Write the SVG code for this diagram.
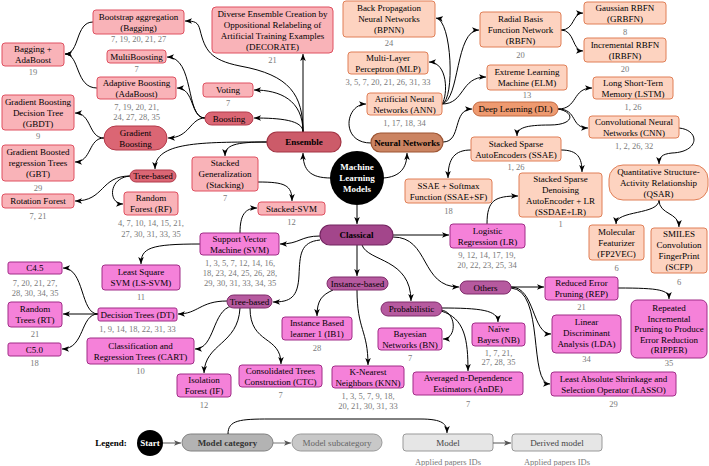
<svg xmlns="http://www.w3.org/2000/svg" width="709" height="466" viewBox="0 0 709 466">
<defs>
<style>
.t{font-family:"Liberation Serif","Times New Roman",serif;font-size:9px;text-anchor:middle;fill:#000}
.b{font-weight:bold}
.w{fill:#fff}
.l{fill:#7a7a7a;font-size:8.5px}
rect{stroke-width:1}
.e1{fill:#f9b3b8;stroke:#df5060}
.e2{fill:#db6674;stroke:#b23a4a}
.e3{fill:#cc5b69;stroke:#a33444;stroke-width:1.2}
.n1{fill:#fdd3c0;stroke:#e07f57}
.n2{fill:#ee9a70;stroke:#c4683f}
.n3{fill:#cb8462;stroke:#9d5533;stroke-width:1.2}
.c1{fill:#f581d9;stroke:#a02d87}
.c2{fill:#b65a9f;stroke:#7f2b6a}
.c3{fill:#a3468b;stroke:#732460;stroke-width:1.2}
.cn path{fill:none;stroke:#000;stroke-width:1;marker-end:url(#ah)}
.lg path{fill:none;stroke-width:1}
</style>
<marker id="ah" viewBox="0 0 10 10" refX="10" refY="5" markerWidth="7" markerHeight="7" markerUnits="userSpaceOnUse" orient="auto"><path d="M0,1 L10,5 L0,9 L2.5,5 z" fill="#000"/></marker>
<marker id="ahg" viewBox="0 0 10 10" refX="10" refY="5" markerWidth="7" markerHeight="7" markerUnits="userSpaceOnUse" orient="auto"><path d="M0,1 L10,5 L0,9 L2.5,5 z" fill="#555"/></marker>
</defs>
<rect width="709" height="466" fill="#fff"/>

<g id="connectors" class="cn">
<!-- ML root -->
<path d="M331,178 C310,178 303,170 303,153"/>
<path d="M383,178 C400,177 407,168 407,153"/>
<path d="M357,205 L357,224"/>
<!-- Ensemble -->
<path d="M303,132 L303,54"/>
<path d="M303,132 C303,100 280,90 254,90"/>
<path d="M303,132 C303,120 280,118 254,118"/>
<path d="M303,132 C303,95 290,75 240,66 C210,60 205,50 200,30 C198,22 195,21 185,21"/>
<path d="M267,142 C200,142 155,142 155,169"/>
<path d="M267,142 C235,142 225,145 225,156"/>
<path d="M205,118 C185,118 195,57 167,57"/>
<path d="M205,118 C190,118 195,88 177,88"/>
<path d="M205,118 C190,118 190,138 168,138"/>
<path d="M93,22 C75,22 80,54 65,54"/>
<path d="M97,88 C75,88 80,54 65,54"/>
<path d="M104,138 C88,138 92,113 75,113"/>
<path d="M104,138 C88,138 92,162 75,162"/>
<path d="M130,176 C100,176 105,201 75,201"/>
<path d="M130,176 C108,178 108,204 123,204"/>
<path d="M258,182 C285,182 292,185 292,201"/>
<path d="M240,233 C240,215 245,208 257,208"/>
<!-- Neural networks -->
<path d="M371,143 C340,143 345,104 366,104"/>
<path d="M443,142 C462,142 452,109 472,109"/>
<path d="M442,104 C455,100 452,20 436,18"/>
<path d="M442,104 C448,95 448,62 429,62"/>
<path d="M442,104 C460,100 455,30 479,30"/>
<path d="M442,104 C465,104 460,77 486,77"/>
<path d="M561,30 C575,30 572,13 583,13"/>
<path d="M561,30 C575,30 572,51 583,51"/>
<path d="M558,109 C578,109 572,88 592,88"/>
<path d="M558,109 C578,109 570,128 588,128"/>
<path d="M558,109 C575,112 575,125 550,125 C525,125 517,128 517,136"/>
<path d="M471,150 C455,150 448,158 448,178"/>
<path d="M561,150 C578,150 582,158 582,172"/>
<path d="M679,128 C700,130 700,152 672,153 C662,154 659,157 659,164"/>
<path d="M659,200 C659,215 616,210 616,224"/>
<path d="M659,200 C659,215 679,212 679,227"/>
<!-- Classical -->
<path d="M320,236 C300,236 300,244 280,244"/>
<path d="M200,244 C150,244 141,248 141,264"/>
<path d="M320,240 C300,242 300,255 299,275 C298,298 290,302 273,302"/>
<path d="M227,301 C200,301 198,314 178,314"/>
<path d="M232,306 C212,310 215,349 195,349"/>
<path d="M240,308 C238,345 205,343 204,373"/>
<path d="M250,308 C250,345 281,335 281,364"/>
<path d="M98,314 C80,314 85,268 63,268"/>
<path d="M98,314 L63,314"/>
<path d="M98,314 C80,314 85,349 62,349"/>
<path d="M357,245 L357,276"/>
<path d="M333,290 C322,295 317,300 317,316"/>
<path d="M357,290 C357,330 368,330 368,365"/>
<path d="M362,245 C368,262 411,258 411,301"/>
<path d="M393,237 C430,237 420,287 459,287"/>
<path d="M393,235 L449,235"/>
<path d="M441,310 C457,312 457,339 443,339"/>
<path d="M441,308 C480,308 498,310 498,322"/>
<path d="M441,311 C465,318 468,340 468,371"/>
<path d="M487,224 C487,200 495,196 518,196"/>
<path d="M511,287 L544,287"/>
<path d="M511,287 C535,287 532,334 551,334"/>
<path d="M511,288 C545,290 528,384 550,384"/>
<path d="M618,288 C660,288 669,290 669,299"/>
</g>

<g id="n-ml"><circle cx="357" cy="178" r="27" fill="#000"/><text class="t b w" x="357" y="170">Machine</text><text class="t b w" x="357" y="181">Learning</text><text class="t b w" x="357" y="192">Models</text></g>

<g id="n-bagging"><rect class="e1" x="93" y="10" width="91" height="24" rx="3"/><text class="t" x="138.5" y="19.5">Bootstrap aggregation</text><text class="t" x="138.5" y="30.5">(Bagging)</text><text class="t l" x="138.5" y="42">7, 19, 20, 21, 27</text></g>
<g id="n-multiboosting"><rect class="e1" x="107" y="50" width="59" height="13" rx="3"/><text class="t" x="136.5" y="59.5">MultiBoosting</text><text class="t l" x="136.5" y="72">7</text></g>
<g id="n-adaboost"><rect class="e1" x="97" y="77" width="79" height="22" rx="3"/><text class="t" x="136.5" y="85.5">Adaptive Boosting</text><text class="t" x="136.5" y="96.5">(AdaBoost)</text><text class="t l" x="136.5" y="110">7, 19, 20, 21,</text><text class="t l" x="136.5" y="120">24, 27, 28, 35</text></g>
<g id="n-bagada"><rect class="e1" x="2" y="43" width="62" height="23" rx="3"/><text class="t" x="33" y="52">Bagging +</text><text class="t" x="33" y="63">AdaBoost</text><text class="t l" x="33" y="75">19</text></g>
<g id="n-gbdt"><rect class="e1" x="2" y="95" width="72" height="35" rx="3"/><text class="t" x="38" y="104.5">Gradient Boosting</text><text class="t" x="38" y="115.5">Decision Tree</text><text class="t" x="38" y="126.5">(GBDT)</text><text class="t l" x="38" y="139">9</text></g>
<g id="n-gradboost"><rect class="e2" x="104" y="126" width="63" height="24" rx="12"/><text class="t" x="135.5" y="135.5">Gradient</text><text class="t" x="135.5" y="146.5">Boosting</text></g>
<g id="n-gbt"><rect class="e1" x="2" y="145" width="72" height="36" rx="3"/><text class="t" x="38" y="155">Gradient Boosted</text><text class="t" x="38" y="166">regression Trees</text><text class="t" x="38" y="177">(GBT)</text><text class="t l" x="38" y="191">29</text></g>
<g id="n-treeE"><rect class="e2" x="130" y="170" width="46" height="12" rx="6"/><text class="t" x="153" y="179">Tree-based</text></g>
<g id="n-rotf"><rect class="e1" x="2" y="194" width="72" height="14" rx="3"/><text class="t" x="38" y="204">Rotation Forest</text><text class="t l" x="38" y="219">7, 21</text></g>
<g id="n-rf"><rect class="e1" x="124" y="192" width="54" height="23" rx="3"/><text class="t" x="151" y="201">Random</text><text class="t" x="151" y="212">Forest (RF)</text><text class="t l" x="151" y="226">4, 7, 10, 14, 15, 21,</text><text class="t l" x="151" y="237">27, 30, 31, 33, 35</text></g>
<g id="n-decorate"><rect class="e1" x="212" y="7" width="121" height="46" rx="4"/><text class="t" x="272.5" y="16.5">Diverse Ensemble Creation by</text><text class="t" x="272.5" y="27.5">Oppositional Relabeling of</text><text class="t" x="272.5" y="38.5">Artificial Training Examples</text><text class="t" x="272.5" y="49.5">(DECORATE)</text><text class="t l" x="272.5" y="63">21</text></g>
<g id="n-voting"><rect class="e1" x="203" y="83" width="50" height="14" rx="3"/><text class="t" x="228" y="93">Voting</text><text class="t l" x="228" y="106">7</text></g>
<g id="n-boosting"><rect class="e2" x="205" y="112" width="48" height="13" rx="6.5"/><text class="t" x="229" y="121.5">Boosting</text></g>
<g id="n-ensemble"><rect class="e3" x="267" y="132" width="74" height="20" rx="10"/><text class="t b" x="304" y="145">Ensemble</text></g>
<g id="n-stacking"><rect class="e1" x="192" y="157" width="66" height="34" rx="3"/><text class="t" x="225" y="166">Stacked</text><text class="t" x="225" y="177">Generalization</text><text class="t" x="225" y="188">(Stacking)</text><text class="t l" x="225" y="201">7</text></g>
<g id="n-stackedsvm"><rect class="e1" x="258" y="202" width="67" height="13" rx="3"/><text class="t" x="291.5" y="211.5">Stacked-SVM</text><text class="t l" x="291.5" y="225">12</text></g>

<g id="n-nn"><rect class="n3" x="371" y="133" width="72" height="19" rx="9.5"/><text class="t b" x="407" y="145.5">Neural Networks</text></g>
<g id="n-ann"><rect class="n1" x="367" y="93" width="75" height="22" rx="3"/><text class="t" x="404.5" y="101.5">Artificial Neural</text><text class="t" x="404.5" y="112.5">Networks (ANN)</text><text class="t l" x="404.5" y="126">1, 17, 18, 34</text></g>
<g id="n-bpnn"><rect class="n1" x="343" y="1" width="92" height="36" rx="3"/><text class="t" x="389" y="10.5">Back Propagation</text><text class="t" x="389" y="21.5">Neural Networks</text><text class="t" x="389" y="32.5">(BPNN)</text><text class="t l" x="389" y="46">24</text></g>
<g id="n-mlp"><rect class="n1" x="348" y="52" width="80" height="22" rx="3"/><text class="t" x="388" y="60.5">Multi-Layer</text><text class="t" x="388" y="71.5">Perceptron (MLP)</text><text class="t l" x="388" y="85">3, 5, 7, 20, 21, 26, 31, 33</text></g>
<g id="n-rbfn"><rect class="n1" x="480" y="12" width="81" height="35" rx="3"/><text class="t" x="520.5" y="21.5">Radial Basis</text><text class="t" x="520.5" y="32.5">Function Network</text><text class="t" x="520.5" y="43.5">(RBFN)</text><text class="t l" x="520.5" y="58">20</text></g>
<g id="n-elm"><rect class="n1" x="487" y="65" width="80" height="25" rx="3"/><text class="t" x="527" y="75">Extreme Learning</text><text class="t" x="527" y="86">Machine (ELM)</text><text class="t l" x="527" y="98">13</text></g>
<g id="n-dl"><rect class="n2" x="473" y="102" width="85" height="14" rx="7"/><text class="t" x="515.5" y="112">Deep Learning (DL)</text></g>
<g id="n-grbfn"><rect class="n1" x="584" y="2" width="82" height="22" rx="3"/><text class="t" x="625" y="10.5">Gaussian RBFN</text><text class="t" x="625" y="21.5">(GRBFN)</text><text class="t l" x="625" y="35">8</text></g>
<g id="n-irbfn"><rect class="n1" x="584" y="38" width="82" height="24" rx="3"/><text class="t" x="625" y="47.5">Incremental RBFN</text><text class="t" x="625" y="58.5">(IRBFN)</text><text class="t l" x="625" y="72">20</text></g>
<g id="n-lstm"><rect class="n1" x="593" y="77" width="80" height="22" rx="3"/><text class="t" x="633" y="85.5">Long Short-Tern</text><text class="t" x="633" y="96.5">Memory (LSTM)</text><text class="t l" x="633" y="110">1, 26</text></g>
<g id="n-cnn"><rect class="n1" x="589" y="116" width="90" height="22" rx="3"/><text class="t" x="634" y="124.5">Convolutional Neural</text><text class="t" x="634" y="135.5">Networks (CNN)</text><text class="t l" x="634" y="149">1, 2, 26, 32</text></g>
<g id="n-ssae"><rect class="n1" x="471" y="137" width="90" height="24" rx="3"/><text class="t" x="516" y="146.5">Stacked Sparse</text><text class="t" x="516" y="157.5">AutoEncoders (SSAE)</text><text class="t l" x="516" y="170">1, 26</text></g>
<g id="n-ssaesf"><rect class="n1" x="405" y="179" width="87" height="24" rx="3"/><text class="t" x="448.5" y="188.5">SSAE + Softmax</text><text class="t" x="448.5" y="199.5">Function (SSAE+SF)</text><text class="t l" x="448.5" y="214">18</text></g>
<g id="n-ssdae"><rect class="n1" x="519" y="173" width="83" height="44" rx="3"/><text class="t" x="560.5" y="182">Stacked Sparse</text><text class="t" x="560.5" y="193">Denoising</text><text class="t" x="560.5" y="204">AutoEncoder + LR</text><text class="t" x="560.5" y="215">(SSDAE+LR)</text><text class="t l" x="560.5" y="227">1</text></g>
<g id="n-qsar"><rect class="n1" x="609" y="165" width="99" height="35" rx="14"/><text class="t" x="658.5" y="174.5">Quantitative Structure-</text><text class="t" x="658.5" y="185.5">Activity Relationship</text><text class="t" x="658.5" y="196.5">(QSAR)</text></g>
<g id="n-fp2vec"><rect class="n1" x="589" y="225" width="55" height="35" rx="3"/><text class="t" x="616.5" y="234.5">Molecular</text><text class="t" x="616.5" y="245.5">Featurizer</text><text class="t" x="616.5" y="256.5">(FP2VEC)</text><text class="t l" x="616.5" y="271">6</text></g>
<g id="n-scfp"><rect class="n1" x="651" y="228" width="56" height="45" rx="3"/><text class="t" x="679" y="237">SMILES</text><text class="t" x="679" y="248">Convolution</text><text class="t" x="679" y="259">FingerPrint</text><text class="t" x="679" y="270">(SCFP)</text><text class="t l" x="679" y="285">6</text></g>

<g id="n-classical"><rect class="c3" x="320" y="225" width="73" height="20" rx="10"/><text class="t b" x="356.5" y="238">Classical</text></g>
<g id="n-svm"><rect class="c1" x="200" y="233" width="79" height="22" rx="3"/><text class="t" x="239.5" y="241.5">Support Vector</text><text class="t" x="239.5" y="252.5">Machine (SVM)</text><text class="t l" x="240" y="266">1, 3, 5, 7, 12, 14, 16,</text><text class="t l" x="240" y="276">18, 23, 24, 25, 26, 28,</text><text class="t l" x="240" y="286">29, 30, 31, 33, 34, 35</text></g>
<g id="n-lssvm"><rect class="c1" x="102" y="265" width="78" height="25" rx="3"/><text class="t" x="141" y="275">Least Square</text><text class="t" x="141" y="286">SVM (LS-SVM)</text><text class="t l" x="141" y="300">11</text></g>
<g id="n-treeC"><rect class="c2" x="227" y="295" width="45" height="13" rx="6.5"/><text class="t" x="249.5" y="304.5">Tree-based</text></g>
<g id="n-c45"><rect class="c1" x="8" y="262" width="54" height="12" rx="2"/><text class="t" x="35" y="271">C4.5</text><text class="t l" x="35" y="286">7, 20, 21, 27,</text><text class="t l" x="35" y="296">28, 30, 34, 35</text></g>
<g id="n-dt"><rect class="c1" x="98" y="308" width="79" height="13" rx="2"/><text class="t" x="137.5" y="317.5">Decision Trees (DT)</text><text class="t l" x="137.5" y="332">1, 9, 14, 18, 22, 31, 33</text></g>
<g id="n-rt"><rect class="c1" x="8" y="302" width="54" height="25" rx="3"/><text class="t" x="35" y="312">Random</text><text class="t" x="35" y="323">Trees (RT)</text><text class="t l" x="35" y="337">21</text></g>
<g id="n-c50"><rect class="c1" x="8" y="343" width="53" height="13" rx="2"/><text class="t" x="34.5" y="352.5">C5.0</text><text class="t l" x="34.5" y="366">18</text></g>
<g id="n-cart"><rect class="c1" x="87" y="338" width="107" height="26" rx="3"/><text class="t" x="140.5" y="348.5">Classification and</text><text class="t" x="140.5" y="359.5">Regression Trees (CART)</text><text class="t l" x="140.5" y="374">10</text></g>
<g id="n-if"><rect class="c1" x="177" y="374" width="54" height="23" rx="3"/><text class="t" x="204" y="382.5">Isolation</text><text class="t" x="204" y="393.5">Forest (IF)</text><text class="t l" x="204" y="408">12</text></g>
<g id="n-ctc"><rect class="c1" x="239" y="365" width="83" height="22" rx="3"/><text class="t" x="280.5" y="373.5">Consolidated Trees</text><text class="t" x="280.5" y="384.5">Construction (CTC)</text><text class="t l" x="280.5" y="398">7</text></g>
<g id="n-instance"><rect class="c2" x="327" y="277" width="61" height="13" rx="6.5"/><text class="t" x="357.5" y="286.5">Instance-based</text></g>
<g id="n-ib1"><rect class="c1" x="282" y="317" width="70" height="23" rx="3"/><text class="t" x="317" y="326">Instance Based</text><text class="t" x="317" y="337">learner 1 (IB1)</text><text class="t l" x="317" y="351">28</text></g>
<g id="n-knn"><rect class="c1" x="332" y="366" width="72" height="22" rx="3"/><text class="t" x="368" y="374.5">K-Nearest</text><text class="t" x="368" y="385.5">Neighbors (KNN)</text><text class="t l" x="368" y="399">1, 3, 5, 7, 9, 18,</text><text class="t l" x="368" y="409">20, 21, 30, 31, 33</text></g>
<g id="n-prob"><rect class="c2" x="381" y="302" width="61" height="14" rx="7"/><text class="t" x="411.5" y="312">Probabilistic</text></g>
<g id="n-bn"><rect class="c1" x="378" y="328" width="64" height="22" rx="3"/><text class="t" x="410" y="336.5">Bayesian</text><text class="t" x="410" y="347.5">Networks (BN)</text><text class="t l" x="410" y="361">7</text></g>
<g id="n-nb"><rect class="c1" x="472" y="323" width="53" height="23" rx="3"/><text class="t" x="498.5" y="332">Naïve</text><text class="t" x="498.5" y="343">Bayes (NB)</text><text class="t l" x="498.5" y="356">1, 7, 21,</text><text class="t l" x="498.5" y="365">27, 28, 35</text></g>
<g id="n-ande"><rect class="c1" x="413" y="372" width="110" height="23" rx="3"/><text class="t" x="468" y="381">Averaged n-Dependence</text><text class="t" x="468" y="392">Estimators (AnDE)</text><text class="t l" x="468" y="407">7</text></g>
<g id="n-lr"><rect class="c1" x="450" y="224" width="75" height="24" rx="3"/><text class="t" x="487.5" y="233.5">Logistic</text><text class="t" x="487.5" y="244.5">Regression (LR)</text><text class="t l" x="487" y="258">9, 12, 14, 17, 19,</text><text class="t l" x="487" y="268">20, 22, 23, 25, 34</text></g>
<g id="n-others"><rect class="c2" x="460" y="281" width="51" height="13" rx="6.5"/><text class="t" x="485.5" y="290.5">Others</text></g>
<g id="n-rep"><rect class="c1" x="545" y="277" width="73" height="23" rx="3"/><text class="t" x="581.5" y="286">Reduced Error</text><text class="t" x="581.5" y="297">Pruning (REP)</text><text class="t l" x="581.5" y="310">21</text></g>
<g id="n-ripper"><rect class="c1" x="631" y="300" width="76" height="58" rx="6"/><text class="t" x="669" y="311">Repeated</text><text class="t" x="669" y="321.5">Incremental</text><text class="t" x="669" y="332">Pruning to Produce</text><text class="t" x="669" y="342.5">Error Reduction</text><text class="t" x="669" y="353">(RIPPER)</text><text class="t l" x="669" y="366">35</text></g>
<g id="n-lda"><rect class="c1" x="552" y="315" width="69" height="38" rx="4"/><text class="t" x="586.5" y="325">Linear</text><text class="t" x="586.5" y="336">Discriminant</text><text class="t" x="586.5" y="347">Analysis (LDA)</text><text class="t l" x="586.5" y="362">34</text></g>
<g id="n-lasso"><rect class="c1" x="551" y="372" width="125" height="24" rx="3"/><text class="t" x="613.5" y="381.5">Least Absolute Shrinkage and</text><text class="t" x="613.5" y="392.5">Selection Operator (LASSO)</text><text class="t l" x="613.5" y="407">29</text></g>

<g id="legend" class="lg">
<text class="t b" x="111" y="446">Legend:</text>
<circle cx="150" cy="443" r="13" fill="#000"/><text class="t b w" x="150" y="446">Start</text>
<path d="M163,443 L181,443" stroke="#555" marker-end="url(#ahg)"/>
<rect x="182" y="434" width="91" height="17" rx="8.5" fill="#b3b3b3" stroke="#808080"/><text class="t b" x="227.5" y="446" style="fill:#333">Model category</text>
<path d="M273,443 L291,443" stroke="#777" marker-end="url(#ahg)"/>
<rect x="292" y="434" width="90" height="17" rx="8.5" fill="#c8c8c8" stroke="#999"/><text class="t" x="337" y="446" style="fill:#666">Model subcategory</text>
<path d="M228,434 C228,420 240,419 270,419 L420,419 C443,419 447,424 447,433" stroke="#000" marker-end="url(#ah)"/>
<rect x="403" y="434" width="90" height="17" rx="3" fill="#e6e6e6" stroke="#999"/><text class="t" x="448" y="446" style="fill:#444">Model</text><text class="t l" x="448" y="465">Applied papers IDs</text>
<path d="M493,443 L511,443" stroke="#555" marker-end="url(#ahg)"/>
<rect x="512" y="434" width="90" height="17" rx="3" fill="#e6e6e6" stroke="#999"/><text class="t" x="557" y="446" style="fill:#444">Derived model</text><text class="t l" x="557" y="465">Applied papers IDs</text>
</g>
</svg>
